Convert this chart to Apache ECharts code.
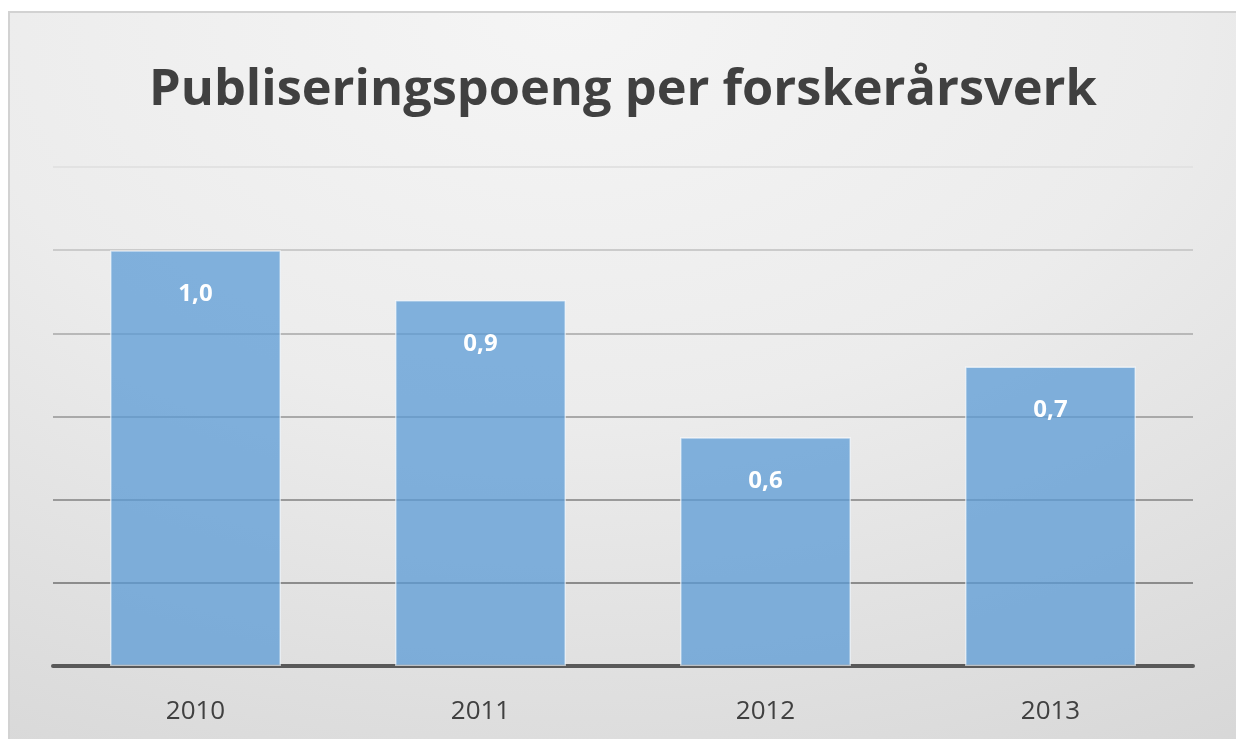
<!DOCTYPE html>
<html><head><meta charset="utf-8">
<script src="https://cdn.jsdelivr.net/npm/echarts@6/dist/echarts.min.js"></script>
<style>
html,body{margin:0;padding:0;width:1236px;height:739px;background:#fff;overflow:hidden}
#frame{position:absolute;left:8px;top:11px;width:1240px;height:740px;border:2px solid #d2d2d2;box-sizing:border-box;
background:radial-gradient(ellipse 110% 120% at 45% 0%, #f5f5f5 0%, #ececec 45%, #d6d6d6 100%);}
#c{position:absolute;left:0;top:0;width:1236px;height:739px}
</style></head>
<body><div id="frame"></div><div id="c"></div>
<script>
const titleText = 'Publiseringspoeng per forskerårsverk';
const categories = ['2010', '2011', '2012', '2013'];
const values = [1.0, 0.88, 0.55, 0.72];
const valueLabels = ['1,0', '0,9', '0,6', '0,7'];

const chart = echarts.init(document.getElementById('c'), null, {renderer: 'canvas'});
chart.setOption({
  backgroundColor: 'transparent',
  animation: false,
  title: {
    text: titleText, left: 144, top: 60,
    textStyle: {fontFamily: 'Open Sans', fontWeight: 'bold', fontSize: 50.5, color: '#404040'}
  },
  grid: {left: 53, right: 43, top: 167, bottom: 73},
  xAxis: {
    type: 'category', data: categories,
    axisLine: {lineStyle: {color: '#595959', width: 4}},
    axisTick: {show: false},
    axisLabel: {fontFamily: 'Open Sans', fontSize: 26, color: '#404040', margin: 33}
  },
  yAxis: {
    type: 'value', min: 0, max: 1.2, interval: 0.2,
    axisLabel: {show: false}, axisLine: {show: false}, axisTick: {show: false},
    splitLine: {lineStyle: {width: 2, color: ['#595959', '#8c8c8c', '#9a9a9a', '#a9a9a9', '#b8b8b8', '#cbcbcb', '#e2e2e2']}}
  },
  series: [{
    type: 'bar', data: values, barWidth: '60%',
    itemStyle: {color: 'rgba(91,155,213,0.75)', borderColor: 'rgba(255,255,255,0.6)', borderWidth: 1.5},
    label: {
      show: true, position: 'insideTop', distance: 32,
      formatter: p => valueLabels[p.dataIndex],
      fontFamily: 'Open Sans', fontWeight: 'bold', fontSize: 24, color: '#ffffff'
    }
  }]
});
</script></body></html>
